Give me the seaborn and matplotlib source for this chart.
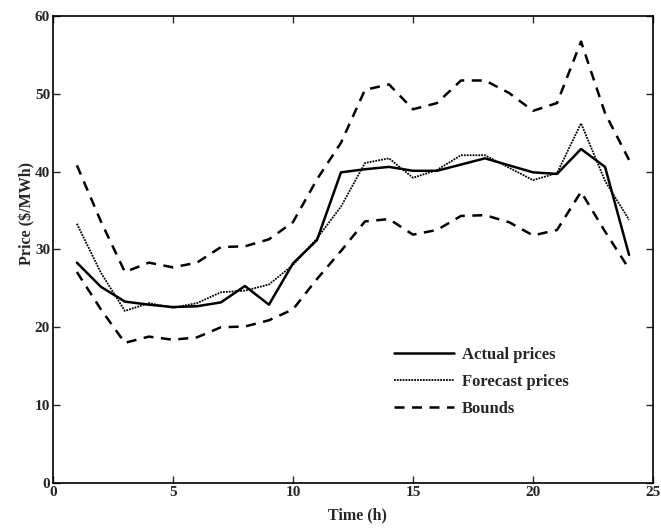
import numpy as np
import pandas as pd
import matplotlib
matplotlib.use("Agg")
import matplotlib.pyplot as plt
import seaborn as sns

# 시간 (h)
hours = list(range(1, 25))

# 가격 데이터 ($/MWh), 그림에서 읽은 값
actual = [28.3, 25.2, 23.3, 22.9, 22.6, 22.7, 23.2, 25.3, 22.9, 28.2, 31.2, 39.9,
          40.3, 40.6, 40.1, 40.1, 40.9, 41.7, 40.8, 39.9, 39.7, 42.9, 40.6, 29.3]
forecast = [33.3, 27.0, 22.1, 23.1, 22.5, 23.1, 24.5, 24.7, 25.5, 28.0, 31.4, 35.5,
            41.1, 41.7, 39.2, 40.2, 42.1, 42.1, 40.5, 38.9, 39.8, 46.2, 38.8, 33.8]
upper = [40.8, 33.6, 27.1, 28.3, 27.7, 28.3, 30.3, 30.4, 31.3, 33.5, 39.0, 43.7,
         50.5, 51.2, 48.0, 48.8, 51.7, 51.7, 50.1, 47.8, 48.8, 56.7, 47.5, 41.5]
lower = [27.1, 22.3, 18.0, 18.8, 18.4, 18.7, 20.0, 20.1, 20.9, 22.3, 26.2, 29.8,
         33.6, 33.9, 31.9, 32.5, 34.3, 34.4, 33.5, 31.8, 32.5, 37.4, 32.3, 27.5]

df = pd.DataFrame({"hour": hours, "actual": actual, "forecast": forecast,
                   "upper": upper, "lower": lower})

sns.set_style("ticks")
plt.rcParams["font.family"] = ["Liberation Serif", "DejaVu Serif"]
plt.rcParams["font.weight"] = "bold"

fig = plt.figure(figsize=(6.61, 5.29), dpi=100)
ax = fig.add_axes([0.080, 0.087, 0.908, 0.883])

sns.lineplot(data=df, x="hour", y="actual", ax=ax, color="black", lw=1.8,
             label="Actual prices")
sns.lineplot(data=df, x="hour", y="forecast", ax=ax, color="black", lw=1.3,
             linestyle=(0, (1, 0.6)), label="Forecast prices")
sns.lineplot(data=df, x="hour", y="upper", ax=ax, color="black", lw=1.8,
             linestyle=(0, (4, 3)), label="Bounds")
sns.lineplot(data=df, x="hour", y="lower", ax=ax, color="black", lw=1.8,
             linestyle=(0, (4, 3)))

ax.set_xlim(0, 25)
ax.set_ylim(0, 60)
ax.set_xticks([0, 5, 10, 15, 20, 25])
ax.set_yticks([0, 10, 20, 30, 40, 50, 60])
ax.tick_params(direction="in", length=5, width=1, top=True, right=True,
               labelsize=11, pad=2)
for lab in ax.get_xticklabels() + ax.get_yticklabels():
    lab.set_fontweight("bold")
for s in ax.spines.values():
    s.set_linewidth(1.2)
    s.set_color("black")

ax.set_xlabel("Time (h)", fontsize=11.5, fontweight="bold")
ax.set_ylabel("Price ($/MWh)", fontsize=11.5, fontweight="bold")
ax.xaxis.set_label_coords(0.507, -0.052)
ax.yaxis.set_label_coords(-0.043, 0.576)
ax.yaxis.label.set_va("center")

ax.legend(loc="upper left", bbox_to_anchor=(0.543, 0.324), frameon=False,
          handlelength=3.6, handletextpad=0.5, labelspacing=0.68,
          prop={"weight": "bold", "size": 12})

plt.savefig("out.png", dpi=100)
plt.close()
